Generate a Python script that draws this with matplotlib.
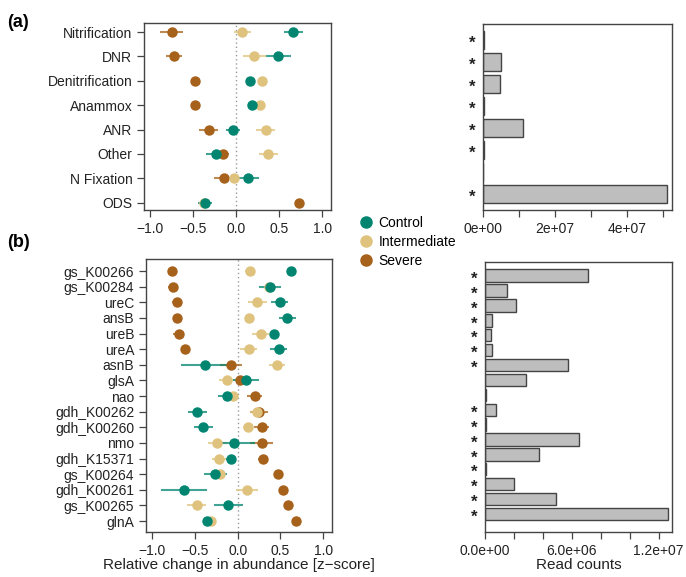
import numpy as np
import matplotlib
matplotlib.use("Agg")
import matplotlib.pyplot as plt
from matplotlib.lines import Line2D

plt.rcParams['font.family'] = ['Liberation Sans', 'DejaVu Sans']

# colours for the three groups
groups = ["Control", "Intermediate", "Severe"]
colors = {"Control": "#018571", "Intermediate": "#dfc27d", "Severe": "#a6611a"}

# ---- panel (a): pathways ----
paths = ["Nitrification", "DNR", "Denitrification", "Anammox", "ANR", "Other", "N Fixation", "ODS"]
a_ctrl = [0.66, 0.49, 0.16, 0.18, -0.04, -0.24, 0.14, -0.36]
a_ctrl_err = [0.11, 0.15, 0.04, 0.03, 0.08, 0.11, 0.12, 0.08]
a_int = [0.07, 0.21, 0.30, 0.27, 0.34, 0.37, -0.03, -0.37]
a_int_err = [0.10, 0.13, 0.05, 0.04, 0.11, 0.11, 0.05, 0.05]
a_sev = [-0.75, -0.72, -0.48, -0.48, -0.32, -0.15, -0.14, 0.73]
a_sev_err = [0.13, 0.09, 0.02, 0.02, 0.11, 0.07, 0.12, 0.02]
a_counts = [0.02e7, 0.50e7, 0.48e7, 0.02e7, 1.11e7, 0.02e7, 0.01e7, 5.13e7]
a_sig = [True, True, True, True, True, True, False, True]

# ---- panel (b): genes ----
genes = ["gs_K00266", "gs_K00284", "ureC", "ansB", "ureB", "ureA", "asnB", "glsA", "nao",
         "gdh_K00262", "gdh_K00260", "nmo", "gdh_K15371", "gs_K00264", "gdh_K00261",
         "gs_K00265", "glnA"]
b_ctrl = [0.62, 0.38, 0.49, 0.58, 0.43, 0.48, -0.38, 0.10, -0.12, -0.47, -0.40, -0.04,
          -0.08, -0.26, -0.63, -0.11, -0.36]
b_ctrl_err = [0.02, 0.13, 0.10, 0.10, 0.05, 0.10, 0.28, 0.15, 0.11, 0.11, 0.11, 0.24,
              0.06, 0.13, 0.27, 0.17, 0.05]
b_int = [0.14, 0.37, 0.23, 0.13, 0.27, 0.13, 0.46, -0.12, -0.05, 0.23, 0.12, -0.24,
         -0.22, -0.21, 0.11, -0.48, -0.31]
b_int_err = [0.05, 0.05, 0.11, 0.04, 0.10, 0.10, 0.09, 0.10, 0.05, 0.09, 0.06, 0.11,
             0.08, 0.06, 0.13, 0.11, 0.06]
b_sev = [-0.77, -0.76, -0.71, -0.71, -0.69, -0.62, -0.08, 0.03, 0.20, 0.25, 0.28, 0.28,
         0.30, 0.47, 0.53, 0.59, 0.68]
b_sev_err = [0.04, 0.05, 0.06, 0.05, 0.06, 0.02, 0.13, 0.05, 0.09, 0.10, 0.09, 0.13,
             0.06, 0.05, 0.05, 0.05, 0.02]
b_counts = [7.09e6, 1.49e6, 2.16e6, 0.48e6, 0.41e6, 0.48e6, 5.71e6, 2.82e6, 0.05e6,
            0.76e6, 0.09e6, 6.52e6, 3.74e6, 0.09e6, 2.00e6, 4.89e6, 12.67e6]
b_sig = [True, True, True, True, True, True, True, False, False, True, True, True,
         True, True, True, True, True]

spine_col = "#444444"


def style_axes(ax):
    for s in ax.spines.values():
        s.set_color(spine_col)
        s.set_linewidth(1.0)
    ax.tick_params(direction="out", length=5, width=0.9, color=spine_col,
                   labelsize=10, labelcolor="#222222")


def dot_panel(ax, labels, vals, errs, ylim):
    y = np.arange(len(labels))
    ax.axvline(0, color="#999999", linestyle=(0, (1, 2)), linewidth=1, zorder=1)
    # severe drawn first, control last (on top)
    for g in ["Severe", "Intermediate", "Control"]:
        ax.hlines(y, np.array(vals[g]) - np.array(errs[g]), np.array(vals[g]) + np.array(errs[g]),
                  color=colors[g], linewidth=1.5, alpha=0.75, zorder=2)
        ax.plot(vals[g], y, "o", color=colors[g], markersize=6.5, zorder=3)
    ax.set_yticks(y)
    ax.set_yticklabels(labels)
    ax.set_ylim(*ylim)
    ax.set_xlim(-1.07, 1.1)
    ax.set_xticks([-1.0, -0.5, 0.0, 0.5, 1.0])
    ax.set_xticklabels(["\u22121.0", "\u22120.5", "0.0", "0.5", "1.0"])
    style_axes(ax)


def bar_panel(ax, counts, sig, ylim, xmax, ticks, labels):
    y = np.arange(len(counts))
    ax.barh(y, counts, height=0.83, color="#bebebe", edgecolor="#444444", linewidth=1.0)
    for yi, s in zip(y, sig):
        if s:
            ax.annotate("*", xy=(0, yi), xycoords=("axes fraction", "data"),
                        xytext=(-7.5, -2.5), textcoords="offset points", ha="center",
                        va="center", fontsize=12, fontweight="bold", color="#222222")
    ax.set_ylim(*ylim)
    ax.set_xlim(0, xmax)
    ax.set_yticks([])
    ax.set_xticks(ticks)
    ax.set_xticklabels(labels)
    style_axes(ax)


fig = plt.figure(figsize=(6.86, 5.77), dpi=100)

ax_a = fig.add_axes([0.210, 0.636, 0.2726, 0.324])
ax_b = fig.add_axes([0.2128, 0.078, 0.271, 0.473])
ax_ab = fig.add_axes([0.704, 0.636, 0.2755, 0.322])
ax_bb = fig.add_axes([0.707, 0.078, 0.2726, 0.468])

dot_panel(ax_a, paths,
          {"Control": a_ctrl, "Intermediate": a_int, "Severe": a_sev},
          {"Control": a_ctrl_err, "Intermediate": a_int_err, "Severe": a_sev_err},
          (7.3, -0.37))
dot_panel(ax_b, genes,
          {"Control": b_ctrl, "Intermediate": b_int, "Severe": b_sev},
          {"Control": b_ctrl_err, "Intermediate": b_int_err, "Severe": b_sev_err},
          (16.7, -0.77))
ax_b.set_xlabel("Relative change in abundance [z\u2212score]", fontsize=11, color="#222222",
                labelpad=0)

a_ticks = np.arange(0, 6e7, 1e7)
a_lab = ["0e+00", "", "2e+07", "", "4e+07", ""]
bar_panel(ax_ab, a_counts, a_sig, (7.73, -0.73), 5.26e7, a_ticks, a_lab)

b_ticks = np.arange(0, 1.3e7, 2e6)
b_lab = ["0.0e+00", "", "", "6.0e+06", "", "", "1.2e+07"]
bar_panel(ax_bb, b_counts, b_sig, (17.21, -0.92), 12.92e6, b_ticks, b_lab)
ax_bb.set_xlabel("Read counts", fontsize=11, color="#222222", labelpad=0)

# legend between panels
handles = [Line2D([], [], marker="o", linestyle="", markersize=8, color=colors[g]) for g in groups]
fig.legend(handles, groups, loc="upper left", bbox_to_anchor=(0.515, 0.635),
           frameon=False, fontsize=10, handletextpad=0.4, labelspacing=0.35,
           handlelength=1.0, borderaxespad=0)

fig.text(0.01, 0.975, "(a)", fontsize=13, fontweight="bold", va="top")
fig.text(0.01, 0.595, "(b)", fontsize=13, fontweight="bold", va="top")

fig.savefig("out.png", dpi=100)
